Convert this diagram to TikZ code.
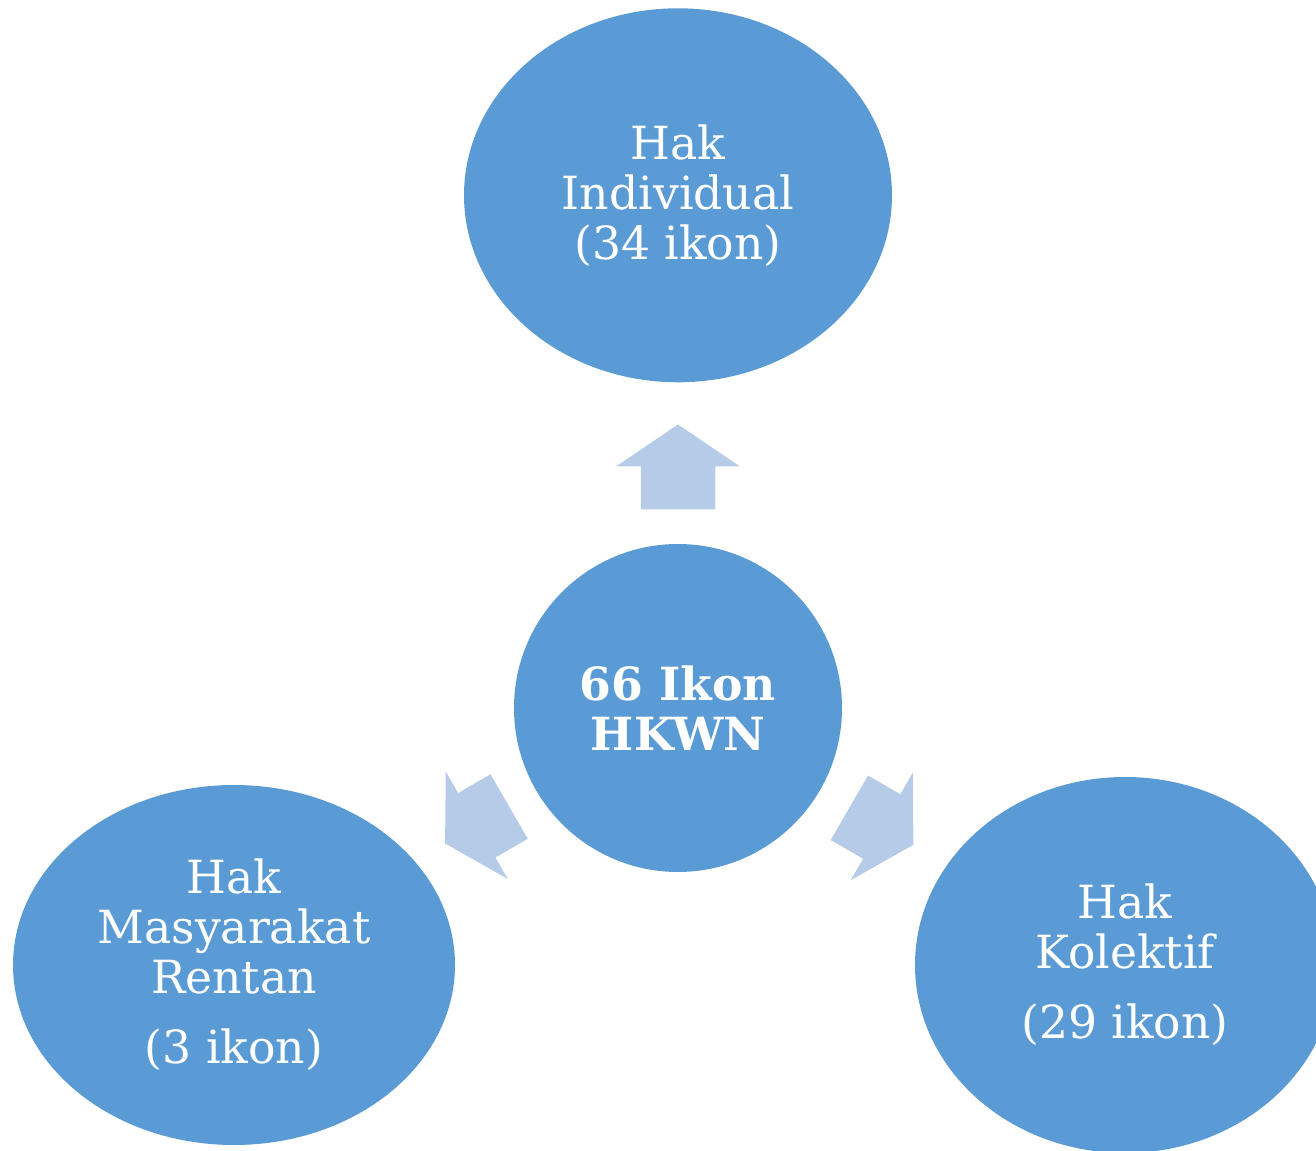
\documentclass[tikz,border=0pt]{standalone}
\usepackage{fontspec}
\setmainfont{DejaVu Serif}
\usetikzlibrary{shapes,positioning}
\definecolor{hakblue}{HTML}{5B9BD5}
\definecolor{arrowblue}{HTML}{B5CBE8}
\newcommand{\haksize}{\fontsize{26}{28.45}\selectfont}
\tikzset{
    hak/.style = { ellipse, fill=hakblue, inner sep=0pt, align=center,
        text=white,
        font=\haksize
    },
    pusat/.style = { circle, fill=hakblue, inner sep=0pt, align=center,
        text=white,
        minimum size = 6.56cm,
        font=\haksize\bfseries
    },
    bigarrow/.pic = {
        \fill[arrowblue] (-0.86,-0.745) -- (0,-0.745) -- (0,-1.24) -- (0.84,0)
            -- (0,1.24) -- (0,0.745) -- (-0.86,0.745) -- cycle;
    }
}

\begin{document}
\begin{tikzpicture}
        \useasboundingbox (0,0) rectangle (26.32,23);
        \clip (0,0) rectangle (26.32,23);

        % centre...
        \node[pusat] (hkwn) at (13.56,8.84) {66 Ikon\\ HKWN};

        % three groups...
        \node[hak, minimum width=8.56cm, minimum height=7.48cm] (individu) [above=3.22cm of hkwn]
            {Hak\\ Individual\\ (34 ikon)};
        \node[hak, minimum width=8.84cm, minimum height=7.2cm] (rentan) at (4.68,3.70)
            {Hak\\ Masyarakat\\ Rentan\\[0.4cm] (3 ikon)};
        \node[hak, minimum width=8.4cm, minimum height=7.52cm] (kolektif) at (22.5,3.70)
            {Hak\\ Kolektif\\[0.4cm] (29 ikon)};

        % arrows...
        \pic[rotate=90] at (13.56,13.67) {bigarrow};
        \pic[rotate=210, xscale=0.87] at (9.535,6.495) {bigarrow};
        \pic[rotate=-30, xscale=0.87] at (17.635,6.47) {bigarrow};
\end{tikzpicture}
\end{document}
